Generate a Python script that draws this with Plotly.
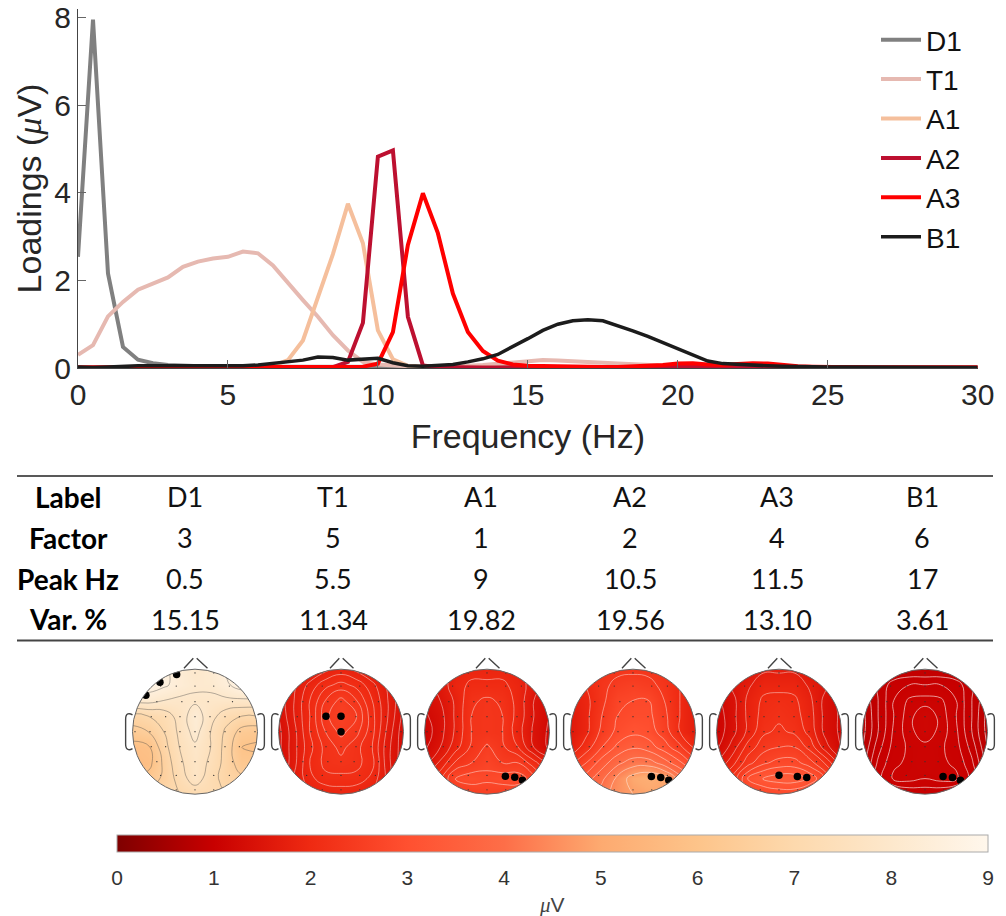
import numpy as np
import plotly.graph_objects as go

W, H = 1006, 916

# ---------- data ----------
freq = [i * 0.5 for i in range(61)]
D1 = [2.54,7.96,2.16,0.48,0.19,0.11,0.07,0.05,0.04,0.03,0.03,0.03,0.02,0.02,0.02,0.02,0.02,0.02,0.02,0.02,
      0.02,0.02,0.02,0.01,0.01,0.01,0.01,0.01,0.01,0.01,0.01,0.01,0.01,0.01,0.01,0.01,0.01,0.01,0.01,0.01,
      0.01,0.01,0.01,0.01,0.01,0.01,0.01,0.01,0.01,0.01,0.01,0.01,0.01,0.01,0.01,0.01,0.01,0.01,0.01,0.01,0.01]
T1 = [0.30,0.52,1.18,1.51,1.79,1.93,2.07,2.31,2.43,2.50,2.54,2.66,2.62,2.34,1.93,1.55,1.17,0.75,0.40,0.14,
      0.08,0.05,0.04,0.03,0.03,0.04,0.05,0.07,0.10,0.14,0.17,0.18,0.17,0.16,0.14,0.12,0.10,0.08,0.07,0.05,
      0.04,0.03,0.03,0.02,0.02,0.02,0.02,0.02,0.01,0.01,0.01,0.01,0.01,0.01,0.01,0.01,0.01,0.01,0.01,0.01,0.01]
A1 = [0.01,0.01,0.01,0.01,0.01,0.01,0.01,0.01,0.01,0.01,0.01,0.02,0.02,0.05,0.18,0.63,1.63,2.60,3.75,2.85,
      0.86,0.20,0.05,0.02,0.01,0.01,0.01,0.01,0.01,0.01,0.01,0.01,0.01,0.01,0.01,0.01,0.01,0.01,0.01,0.01,
      0.01,0.01,0.01,0.01,0.01,0.01,0.01,0.01,0.01,0.01,0.01,0.01,0.01,0.01,0.01,0.01,0.01,0.01,0.01,0.01,0.01]
A2 = [0.01,0.01,0.01,0.01,0.01,0.01,0.01,0.01,0.01,0.01,0.01,0.01,0.01,0.01,0.01,0.01,0.01,0.02,0.14,1.03,
      4.83,4.97,1.17,0.06,0.02,0.01,0.01,0.01,0.01,0.01,0.01,0.01,0.01,0.01,0.01,0.01,0.01,0.01,0.02,0.02,
      0.03,0.05,0.03,0.02,0.02,0.02,0.01,0.01,0.01,0.01,0.01,0.01,0.01,0.01,0.01,0.01,0.01,0.01,0.01,0.01,0.01]
A3 = [0.01,0.01,0.01,0.01,0.01,0.01,0.01,0.01,0.01,0.01,0.01,0.01,0.01,0.01,0.01,0.01,0.01,0.02,0.02,0.03,
      0.10,0.82,2.81,3.99,3.08,1.70,0.82,0.39,0.17,0.08,0.05,0.04,0.03,0.03,0.02,0.02,0.02,0.03,0.04,0.07,
      0.10,0.11,0.08,0.07,0.09,0.11,0.10,0.06,0.04,0.03,0.02,0.02,0.02,0.01,0.01,0.01,0.01,0.01,0.01,0.01,0.01]
B1 = [0.02,0.01,0.02,0.04,0.05,0.05,0.05,0.04,0.04,0.04,0.04,0.05,0.07,0.10,0.13,0.18,0.25,0.24,0.18,0.20,
      0.22,0.12,0.05,0.04,0.05,0.08,0.14,0.21,0.31,0.48,0.67,0.86,1.00,1.08,1.10,1.08,0.97,0.85,0.72,0.58,
      0.44,0.29,0.16,0.10,0.08,0.07,0.05,0.04,0.03,0.03,0.02,0.02,0.02,0.02,0.01,0.01,0.01,0.01,0.01,0.01,0.01]
series_names = ["D1", "T1", "A1", "A2", "A3", "B1"]
series_values = [D1, T1, A1, A2, A3, B1]
series_colors = ["#808080", "#e6b9b1", "#f5bf9c", "#bd1030", "#ff0000", "#1c1c1c"]
series_widths = [4, 4, 4, 4, 4, 3.5]

row_labels = ["Label", "Factor", "Peak Hz", "Var. %"]
table_rows = [
    ["D1", "T1", "A1", "A2", "A3", "B1"],
    ["3", "5", "1", "2", "4", "6"],
    ["0.5", "5.5", "9", "10.5", "11.5", "17"],
    ["15.15", "11.34", "19.82", "19.56", "13.10", "3.61"],
]

grid_axis = [-1, -0.75, -0.5, -0.25, 0, 0.25, 0.5, 0.75, 1]
topo_D1 = [[8.9,8.8,8.6,8.3,8.0,8.2,8.6,8.9,8.9],
           [8.9,8.8,8.6,8.3,8.1,8.1,8.4,8.8,8.9],
           [8.1,8.2,8.0,7.9,7.9,7.9,7.9,7.9,7.9],
           [6.8,7.0,7.2,7.7,8.3,7.7,7.2,7.0,7.0],
           [6.3,6.5,7.0,7.6,8.2,7.5,6.9,6.3,6.2],
           [5.8,5.9,6.8,7.5,7.9,7.5,6.8,6.0,5.9],
           [5.7,5.8,6.6,7.4,7.8,7.4,6.8,6.2,6.2],
           [6.0,6.2,6.6,7.2,7.8,7.2,6.8,6.6,6.6],
           [6.5,6.7,7.0,7.0,7.1,7.2,7.0,7.0,7.0]]
topo_T1 = [[1.50,1.55,1.65,1.80,1.90,1.80,1.65,1.55,1.50],
           [1.50,1.65,1.90,2.10,2.20,2.10,1.90,1.65,1.45],
           [1.45,1.70,2.00,2.30,2.50,2.30,2.00,1.70,1.40],
           [1.40,1.70,2.00,2.40,2.60,2.45,2.05,1.70,1.35],
           [1.35,1.65,2.00,2.30,2.50,2.35,2.05,1.65,1.30],
           [1.35,1.65,1.95,2.20,2.35,2.20,2.00,1.60,1.30],
           [1.35,1.65,2.00,2.20,2.25,2.20,2.05,1.60,1.30],
           [1.40,1.70,1.95,2.10,2.10,2.10,1.95,1.65,1.35],
           [1.50,1.65,1.80,1.85,1.90,1.85,1.80,1.65,1.50]]
topo_A1 = [[1.5,1.6,1.8,1.9,1.9,1.9,1.8,1.6,1.5],
           [1.4,1.6,1.9,2.05,2.05,2.05,1.9,1.6,1.4],
           [1.3,1.5,1.8,2.2,2.3,2.2,1.9,1.5,1.3],
           [1.2,1.4,1.8,2.25,2.3,2.25,1.9,1.5,1.25],
           [1.1,1.4,1.8,2.25,2.3,2.25,1.85,1.45,1.2],
           [1.2,1.5,1.9,2.3,2.55,2.3,2.0,1.5,1.2],
           [1.4,1.8,2.3,2.5,2.7,2.5,2.5,2.1,1.7],
           [1.8,2.2,2.8,2.9,2.8,2.9,2.9,2.6,2.0],
           [2.1,2.3,2.4,2.5,2.6,2.5,2.5,2.3,2.1]]
topo_A2 = [[2.0,2.0,2.2,2.3,2.3,2.3,2.2,2.0,2.0],
           [1.9,2.0,2.3,2.5,2.6,2.5,2.3,2.0,1.8],
           [1.7,1.9,2.3,2.7,2.8,2.8,2.4,2.0,1.7],
           [1.6,1.9,2.4,2.8,2.9,2.9,2.5,2.0,1.7],
           [1.6,1.9,2.5,2.9,3.1,3.0,2.6,2.0,1.7],
           [1.7,2.2,2.8,3.3,3.55,3.4,3.0,2.5,1.9],
           [2.3,2.8,3.4,3.9,4.2,4.2,3.8,3.3,2.6],
           [3.0,3.4,3.9,4.5,5.0,5.2,5.0,4.2,3.5],
           [3.5,3.8,4.2,4.6,4.8,4.9,4.8,4.4,3.8]]
topo_A3 = [[1.4,1.4,1.5,1.7,1.7,1.7,1.5,1.4,1.4],
           [1.3,1.5,1.7,1.9,1.9,1.9,1.7,1.5,1.3],
           [1.2,1.4,1.8,2.05,2.1,2.05,1.8,1.4,1.2],
           [1.1,1.4,1.8,2.1,2.2,2.1,1.85,1.4,1.2],
           [1.1,1.4,1.8,2.2,2.3,2.2,1.9,1.4,1.2],
           [1.2,1.6,2.1,2.4,2.5,2.5,2.15,1.6,1.2],
           [1.5,1.9,2.4,2.7,2.85,2.85,2.6,2.2,1.6],
           [1.9,2.3,3.0,3.3,3.4,3.4,3.2,2.7,2.0],
           [2.1,2.4,2.6,2.7,2.8,2.8,2.6,2.4,2.1]]
topo_B1 = [[.85,.85,.90,.92,.92,.92,.90,.85,.85],
           [.85,.92,1.00,1.02,1.02,1.02,1.00,.92,.85],
           [.82,.92,1.02,1.08,1.09,1.08,1.02,.92,.82],
           [.80,.92,1.02,1.10,1.17,1.10,1.02,.92,.80],
           [.80,.92,1.03,1.10,1.16,1.10,1.03,.92,.80],
           [.82,.95,1.04,1.08,1.10,1.08,1.04,.95,.82],
           [.85,.98,1.06,1.08,1.11,1.08,1.06,.98,.85],
           [.88,1.00,1.08,1.09,1.07,1.09,1.08,1.00,.88],
           [.85,.90,.94,.97,.98,.97,.94,.90,.85]]
topo_maps = [topo_D1, topo_T1, topo_A1, topo_A2, topo_A3, topo_B1]
topo_levels = [(5.5, 8.5, 0.5), (1.4, 2.45, 0.15), (1.25, 3, 0.25), (2, 5.2, 0.4), (1.25, 3.5, 0.25), (0.82, 1.15, 0.05)]
topo_line = ["rgba(70,70,70,0.5)"] + ["rgba(255,255,255,0.55)"] * 4 + ["rgba(255,255,255,0.75)"]

sensor_x = [-.3,0,.3, -.55,-.3,0,.3,.55, -.61,-.21,0,.21,.6, -.7,-.47,-.24,0,.24,.48,.71,
            -.96,-.72,-.48,-.24,0,.24,.48,.72,.96, -.7,-.47,-.24,0,.24,.48,.71,
            -.61,-.21,0,.21,.6, -.55,-.3,0,.3,.55, -.3,0,.3]
sensor_y = [.94]*3 + [.73]*5 + [.48]*5 + [.24]*7 + [0]*9 + [-.24]*7 + [-.48]*5 + [-.7]*5 + [-.93]*3
peak_x = [[-.786,-.561,-.294], [-.24,0,0], [.294,.444,.567], [.294,.444,.572], [0,.294,.444], [.289,.439,.567]]
peak_y = [[.583,.791,.914], [.246,.246,0], [-.711,-.727,-.775], [-.717,-.733,-.775], [-.695,-.717,-.733], [-.717,-.733,-.775]]

colorscale_stops = [[0/9,"#7f0000"],[1/9,"#c80000"],[2/9,"#ef2a12"],[3/9,"#ff5030"],[4/9,"#fd6e48"],
                    [5/9,"#fdaa70"],[6/9,"#fdc48a"],[7/9,"#fdd9ad"],[8/9,"#fde8cc"],[1,"#fff7ec"]]
colorbar_ticks = [0, 1, 2, 3, 4, 5, 6, 7, 8, 9]

head_cx = [195, 341, 487, 633, 779, 925]
head_cy = 731.7
head_r = 62.5
col_x = [185, 333, 481, 630, 777, 922]
row_y = [496.5, 537.5, 578.5, 619]

# ---------- figure ----------
fig = go.Figure()
for name, vals, c, w in zip(series_names, series_values, series_colors, series_widths):
    fig.add_trace(go.Scatter(x=freq, y=vals, name=name, mode="lines", cliponaxis=False,
                             line=dict(color=c, width=w)))

layout_axes = {}
shapes = []
theta = np.linspace(0, 2 * np.pi, 121)
hole = "M " + " L ".join(f"{np.cos(t):.4f} {np.sin(t):.4f}" for t in theta) + " Z"
mask_path = "M -1.03 -1.03 L 1.03 -1.03 L 1.03 1.03 L -1.03 1.03 Z " + hole
outline = "#444444"
span = 1.2
half = head_r * span
for i, cx in enumerate(head_cx):
    n = i + 2
    xn, yn = f"x{n}", f"y{n}"
    layout_axes[f"xaxis{n}"] = dict(domain=[(cx - half) / W, (cx + half) / W], range=[-span, span], visible=False, anchor=yn)
    layout_axes[f"yaxis{n}"] = dict(domain=[1 - (head_cy + half) / H, 1 - (head_cy - half) / H], range=[-span, span], visible=False, anchor=xn)
    start, end, size = topo_levels[i]
    fig.add_trace(go.Contour(x=grid_axis, y=grid_axis, z=topo_maps[i][::-1], coloraxis="coloraxis",
                             contours=dict(coloring="heatmap", start=start, end=end, size=size),
                             line=dict(color=topo_line[i], width=0.8, smoothing=1.3),
                             hoverinfo="skip", xaxis=xn, yaxis=yn))
    fig.add_trace(go.Scatter(x=sensor_x, y=sensor_y, mode="markers", showlegend=False, xaxis=xn, yaxis=yn,
                             marker=dict(size=1.3, color="#333333")))
    fig.add_trace(go.Scatter(x=peak_x[i], y=peak_y[i], mode="markers", showlegend=False, xaxis=xn, yaxis=yn,
                             marker=dict(size=7.5, color="#000000")))
    common = dict(xref=xn, yref=yn, layer="above")
    shapes.append(dict(type="path", path=mask_path, fillcolor="white", line=dict(width=0), **common))
    shapes.append(dict(type="circle", x0=-1, x1=1, y0=-1, y1=1, line=dict(color="#666666", width=1), **common))
    shapes.append(dict(type="path", path="M -.176 1.016 L -.027 1.176 M .027 1.176 L .2 1.016",
                       line=dict(color=outline, width=1.4), **common))
    for s in (-1, 1):
        shapes.append(dict(type="path",
                           path=f"M {s*1.0} .27 C {s*1.05} .3 {s*1.11} .3 {s*1.11} .2 L {s*1.11} -.2 "
                                f"C {s*1.11} -.3 {s*1.05} -.3 {s*1.0} -.27",
                           line=dict(color=outline, width=1.4), **common))

# table rules
for yy, col, lw in [(476, "#222222", 1.5), (640.5, "#444444", 2)]:
    shapes.append(dict(type="line", xref="paper", yref="paper", x0=17 / W, x1=993 / W,
                       y0=1 - yy / H, y1=1 - yy / H, line=dict(color=col, width=lw)))
# colour bar inner ticks
for t in colorbar_ticks[1:-1]:
    xp = (117 + 871 * t / 9) / W
    shapes.append(dict(type="line", xref="paper", yref="paper", x0=xp, x1=xp,
                       y0=1 - 852 / H, y1=1 - 846 / H, line=dict(color="#555555", width=1)))

annotations = []
tfont = "Lato, 'Open Sans', sans-serif"
for lab, vals, yy in zip(row_labels, table_rows, row_y):
    annotations.append(dict(text=f"<b>{lab}</b>", x=68 / W, y=1 - yy / H, xref="paper", yref="paper", showarrow=False,
                            xanchor="center", yanchor="middle", font=dict(family=tfont, size=28, color="#000000")))
    for v, xx in zip(vals, col_x):
        annotations.append(dict(text=v, x=xx / W, y=1 - yy / H, xref="paper", yref="paper", showarrow=False,
                                xanchor="center", yanchor="middle", font=dict(family=tfont, size=27, color="#111111")))
mu = "<span style=\"font-family:'Liberation Serif'\"><i>μ</i></span>"
annotations.append(dict(text=f"{mu}V", x=552 / W, y=1 - 905 / H, xref="paper", yref="paper", showarrow=False,
                        xanchor="center", yanchor="middle", font=dict(size=21, color="#444444")))

fig.update_layout(
    width=W, height=H, margin=dict(l=0, r=0, t=0, b=0, pad=0, autoexpand=False), autosize=False,
    paper_bgcolor="white", plot_bgcolor="rgba(0,0,0,0)",
    font=dict(family="Liberation Sans, Arial, sans-serif", color="#262626"),
    xaxis=dict(domain=[78 / W, 977.7 / W], range=[0, 30], tickvals=[0, 5, 10, 15, 20, 25, 30],
               ticks="inside", ticklen=8, tickcolor="#666666", tickwidth=1, showgrid=False, zeroline=False,
               showline=True, linecolor="#444444", linewidth=1, tickfont=dict(size=30),
               title=dict(text="Frequency (Hz)", font=dict(size=34), standoff=14)),
    yaxis=dict(domain=[1 - 368 / H, 1 - 9 / H], range=[0, 8.2], tickvals=[0, 2, 4, 6, 8],
               ticks="inside", ticklen=8, tickcolor="#666666", tickwidth=1, showgrid=False, zeroline=False,
               showline=True, linecolor="#444444", linewidth=1, tickfont=dict(size=30),
               title=dict(text=f"Loadings ({mu}V)", font=dict(size=34), standoff=2)),
    legend=dict(x=876 / W, y=1 - 15 / H, xanchor="left", yanchor="top", bgcolor="rgba(0,0,0,0)",
                font=dict(size=28, color="#111111"), itemwidth=40, tracegroupgap=0),
    coloraxis=dict(cmin=0, cmax=9, colorscale=colorscale_stops,
                   colorbar=dict(orientation="h", xref="container", yref="container",
                                 x=117 / W, xanchor="left", y=1 - 835 / H, yanchor="top",
                                 lenmode="pixels", len=871, thicknessmode="pixels", thickness=17,
                                 xpad=0, ypad=0, outlinecolor="#aaaaaa", outlinewidth=1,
                                 tickvals=colorbar_ticks, ticks="outside", ticklen=8,
                                 tickcolor="rgba(0,0,0,0)",
                                 tickfont=dict(size=21, color="#333333"))),
    shapes=shapes, annotations=annotations, **layout_axes,
)

fig.write_html("out.html", config={"displayModeBar": False},
               post_script="document.body.style.margin='0';document.body.style.overflow='hidden';")
